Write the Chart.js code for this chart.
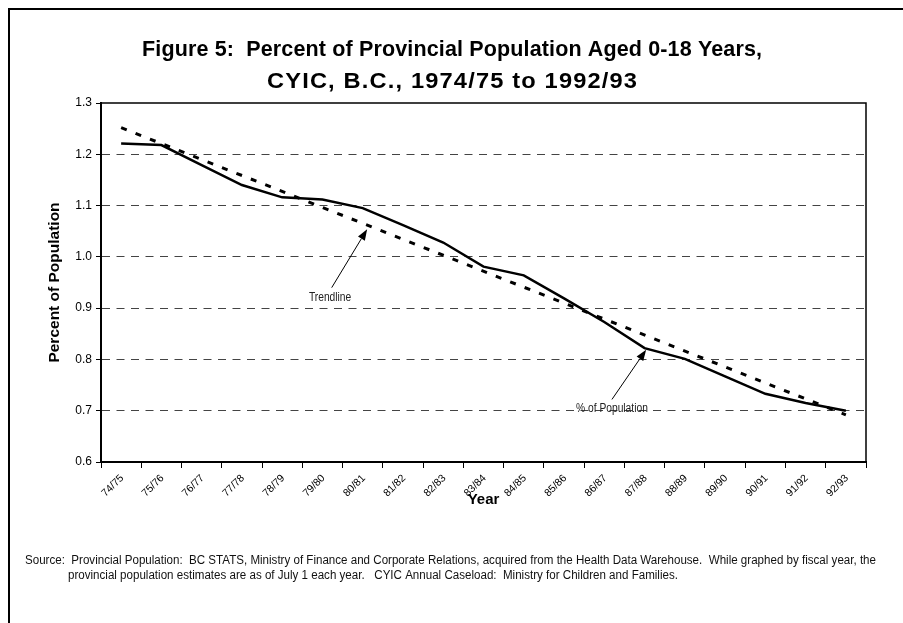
<!DOCTYPE html>
<html>
<head>
<meta charset="utf-8">
<script src="https://cdn.jsdelivr.net/npm/chart.js@4.4.1/dist/chart.umd.min.js"></script>
<style>
  html, body { margin: 0; padding: 0; background: #fff; }
  #wrap { width: 903px; height: 623px; }
</style>
</head>
<body>
<div id="wrap"><canvas id="chartPop" width="903" height="623"></canvas></div>
<script>
const ARIAL = '"Liberation Sans", Arial, Helvetica, sans-serif';

const years = ['74/75', '75/76', '76/77', '77/78', '78/79', '79/80', '80/81', '81/82', '82/83', '83/84',
               '84/85', '85/86', '86/87', '87/88', '88/89', '89/90', '90/91', '91/92', '92/93'];
const pctPopulation = [1.221, 1.218, 1.179, 1.140, 1.116, 1.112, 1.095, 1.062, 1.028, 0.981,
                       0.964, 0.919, 0.873, 0.822, 0.801, 0.767, 0.733, 0.715, 0.700];
// straight trend: only the two ends are given, spanGaps joins them
const trendline = [1.252, null, null, null, null, null, null, null, null, null,
                   null, null, null, null, null, null, null, null, 0.692];
const yTicks = [0.6, 0.7, 0.8, 0.9, 1.0, 1.1, 1.2, 1.3];

const titleLines = ['Figure 5:  Percent of Provincial Population Aged 0-18 Years,',
                    'CYIC, B.C., 1974/75 to 1992/93'];
const sourceLines = [
  'Source:  Provincial Population:  BC STATS, Ministry of Finance and Corporate Relations, acquired from the Health Data Warehouse.  While graphed by fiscal year, the',
  'provincial population estimates are as of July 1 each year.   CYIC Annual Caseload:  Ministry for Children and Families.'
];
// callout label and arrow, positions as [category index, value]
const callouts = [
  { text: 'Trendline',       at: [5.19, 0.920],  from: [5.23, 0.940],  to: [6.11, 1.054] },
  { text: '% of Population', at: [12.19, 0.704], from: [12.19, 0.722], to: [13.04, 0.819] }
];

function arrow(ctx, x1, y1, x2, y2) {
  const ang = Math.atan2(y2 - y1, x2 - x1);
  const len = 11, half = 4;
  const bx = x2 - len * Math.cos(ang), by = y2 - len * Math.sin(ang);
  ctx.beginPath();
  ctx.moveTo(x1, y1);
  ctx.lineTo(bx, by);
  ctx.stroke();
  ctx.beginPath();
  ctx.moveTo(x2, y2);
  ctx.lineTo(bx + half * Math.sin(ang), by - half * Math.cos(ang));
  ctx.lineTo(bx - half * Math.sin(ang), by + half * Math.cos(ang));
  ctx.closePath();
  ctx.fill();
}

// text squeezed horizontally, stands in for a narrow face
function narrowText(ctx, text, x, y, sx) {
  ctx.save();
  ctx.translate(x, y);
  ctx.scale(sx, 1);
  ctx.fillText(text, 0, 0);
  ctx.restore();
}

// one title line, centred and spread to a given width
function spreadLine(ctx, text, cx, y, width, sx) {
  ctx.save();
  ctx.letterSpacing = '0px';
  const w0 = ctx.measureText(text).width * sx;
  const ls = Math.max(0, (width - w0) / (text.length - 1)) / sx;
  ctx.letterSpacing = ls + 'px';
  ctx.textAlign = 'left';
  ctx.translate(cx - width / 2, y);
  ctx.scale(sx, 1);
  ctx.fillText(text, 0, 0);
  ctx.restore();
}

const decorations = {
  id: 'decorations',
  afterDraw(chart) {
    const { ctx, chartArea: a, scales: { x, y } } = chart;
    ctx.save();

    // title
    ctx.fillStyle = '#000';
    ctx.font = `bold 21.5px ${ARIAL}`;
    ctx.textBaseline = 'alphabetic';
    spreadLine(ctx, titleLines[0], 452, 56, 620, 1);
    spreadLine(ctx, titleLines[1], 452, 88, 370, 1.1);

    // plot frame, top and right sides
    ctx.strokeStyle = '#000';
    ctx.lineWidth = 1.5;
    ctx.beginPath();
    ctx.moveTo(a.left, a.top);
    ctx.lineTo(a.right, a.top);
    ctx.lineTo(a.right, a.bottom);
    ctx.stroke();

    // page border
    ctx.lineWidth = 2;
    ctx.beginPath();
    ctx.moveTo(9, chart.height);
    ctx.lineTo(9, 9);
    ctx.lineTo(chart.width, 9);
    ctx.stroke();

    // callouts
    ctx.lineWidth = 1;
    ctx.fillStyle = '#000';
    callouts.forEach(c => {
      arrow(ctx, x.getPixelForValue(c.from[0]), y.getPixelForValue(c.from[1]),
                 x.getPixelForValue(c.to[0]), y.getPixelForValue(c.to[1]));
    });
    ctx.font = `12.5px ${ARIAL}`;
    ctx.fillStyle = '#222';
    ctx.textAlign = 'center';
    ctx.textBaseline = 'middle';
    callouts.forEach(c => {
      narrowText(ctx, c.text, x.getPixelForValue(c.at[0]), y.getPixelForValue(c.at[1]), 0.82);
    });

    // source note
    ctx.font = `12px ${ARIAL}`;
    ctx.fillStyle = '#111';
    ctx.textAlign = 'left';
    const sx = 851 / ctx.measureText(sourceLines[0]).width;
    narrowText(ctx, sourceLines[0], 25, 561, sx);
    narrowText(ctx, sourceLines[1], 68, 576, sx);
    ctx.restore();
  }
};

new Chart(document.getElementById('chartPop'), {
  type: 'line',
  data: {
    labels: years,
    datasets: [
      { label: '% of Population', data: pctPopulation, borderColor: '#000', borderWidth: 2.5,
        pointRadius: 0, tension: 0, fill: false },
      { label: 'Trendline', data: trendline, borderColor: '#000', borderWidth: 3,
        borderDash: [6, 9.5], pointRadius: 0, spanGaps: true, fill: false }
    ]
  },
  options: {
    responsive: false,
    animation: false,
    layout: { padding: { left: 10, right: 37, top: 103, bottom: 114 } },
    plugins: {
      legend: { display: false },
      tooltip: { enabled: false },
      title: { display: false }
    },
    scales: {
      x: {
        offset: true,
        grid: { offset: true, drawOnChartArea: false, color: '#000', tickLength: 6, lineWidth: 1 },
        border: { color: '#000', width: 2 },
        ticks: { color: '#000', font: { family: ARIAL, size: 10.5 }, minRotation: 45, maxRotation: 45,
                 padding: 4, labelOffset: 1, autoSkip: false },
        title: { display: true, text: 'Year', color: '#000',
                 font: { family: ARIAL, size: 15, weight: 'bold' }, padding: { top: 0, bottom: 0 } },
        afterFit: s => { s.height = 47; }
      },
      y: {
        min: 0.6,
        max: 1.3,
        afterBuildTicks: s => { s.ticks = yTicks.map(v => ({ value: v })); },
        ticks: { color: '#000', font: { family: ARIAL, size: 12 }, padding: 4,
                 callback: v => v.toFixed(1) },
        grid: {
          color: c => (c.tick && (Math.abs(c.tick.value - 0.6) < 1e-6 || Math.abs(c.tick.value - 1.3) < 1e-6))
            ? 'rgba(0,0,0,0)' : '#444',
          tickColor: '#000',
          tickLength: 5,
          lineWidth: 1
        },
        border: { color: '#000', width: 2, dash: [8, 6.5] },
        title: { display: true, text: 'Percent of Population', color: '#000',
                 font: { family: ARIAL, size: 15.5, weight: 'bold' }, padding: { top: 35, bottom: 0 } },
        afterFit: s => { s.width = 91; }
      }
    }
  },
  plugins: [decorations]
});
</script>
</body>
</html>
